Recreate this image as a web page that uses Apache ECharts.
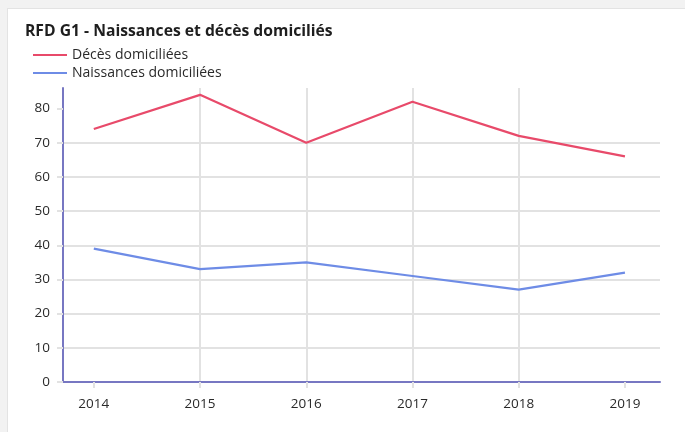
<!DOCTYPE html>
<html>
<head>
<meta charset="utf-8">
<script src="https://cdn.jsdelivr.net/npm/echarts@6/dist/echarts.min.js"></script>
<style>
  html, body { margin: 0; padding: 0; background: #f2f2f2; overflow: hidden; }
  .card { position: absolute; left: 7px; top: 8px; width: 700px; height: 450px; background: #fff; border: 1px solid #e3e3e3; }
  #chart { position: absolute; left: 0; top: 0; width: 685px; height: 432px; }
</style>
</head>
<body>
<div class="card"></div>
<div id="chart"></div>
<script>
const years = [2014, 2015, 2016, 2017, 2018, 2019]
const deces = [74, 84, 70, 82, 72, 66]
const naissances = [39, 33, 35, 31, 27, 32]
const yTicks = [0, 10, 20, 30, 40, 50, 60, 70, 80]

const mychart = echarts.init(document.getElementById('chart'))
const pairs = (vals) => years.map((y, i) => [y, vals[i]])

let option = {
  animation: false,
  textStyle: { fontFamily: 'Open Sans' },
  title: {
    text: 'RFD G1 - Naissances et décès domiciliés',
    left: 20,
    top: 19,
    textStyle: { fontSize: 15.7, fontWeight: 'bold', color: '#1e1e1e' }
  },
  legend: {
    orient: 'vertical',
    left: 28,
    top: 43,
    itemGap: 4,
    itemWidth: 34,
    itemHeight: 2,
    icon: 'rect',
    textStyle: { fontSize: 14, color: '#2a2a2a' },
    data: ['Décès domiciliées', 'Naissances domiciliées']
  },
  grid: { left: 63, right: 25, top: 88, bottom: 50 },
  xAxis: {
    type: 'value',
    min: 2013.71,
    max: 2019.33,
    axisLine: { show: true, lineStyle: { color: '#7777c2', width: 2 } },
    axisTick: { show: true, length: 6, customValues: years, lineStyle: { color: '#e2e2e2', width: 2 } },
    axisLabel: { customValues: years, color: '#2a2a2a', fontSize: 13.5, margin: 15, formatter: (v) => String(v) },
    splitLine: { show: true, showMinLine: false, showMaxLine: false, lineStyle: { color: '#e2e2e2', width: 2 } }
  },
  yAxis: {
    type: 'value',
    min: 0,
    max: 86,
    interval: 10,
    axisLine: { show: true, lineStyle: { color: '#7777c2', width: 2 } },
    axisTick: { show: true, length: 6, customValues: yTicks, lineStyle: { color: '#e2e2e2', width: 2 } },
    axisLabel: { customValues: yTicks, color: '#2a2a2a', fontSize: 13.5, margin: 13 },
    splitLine: { show: true, showMaxLine: false, lineStyle: { color: '#e2e2e2', width: 2 } }
  },
  series: [
    {
      name: 'Décès domiciliées',
      type: 'line',
      color: '#e84a6a',
      showSymbol: false,
      lineStyle: { width: 2.2 },
      data: pairs(deces)
    },
    {
      name: 'Naissances domiciliées',
      type: 'line',
      color: '#6e8ce6',
      showSymbol: false,
      lineStyle: { width: 2.2 },
      data: pairs(naissances)
    }
  ]
}
mychart.setOption(option)
</script>
</body>
</html>
